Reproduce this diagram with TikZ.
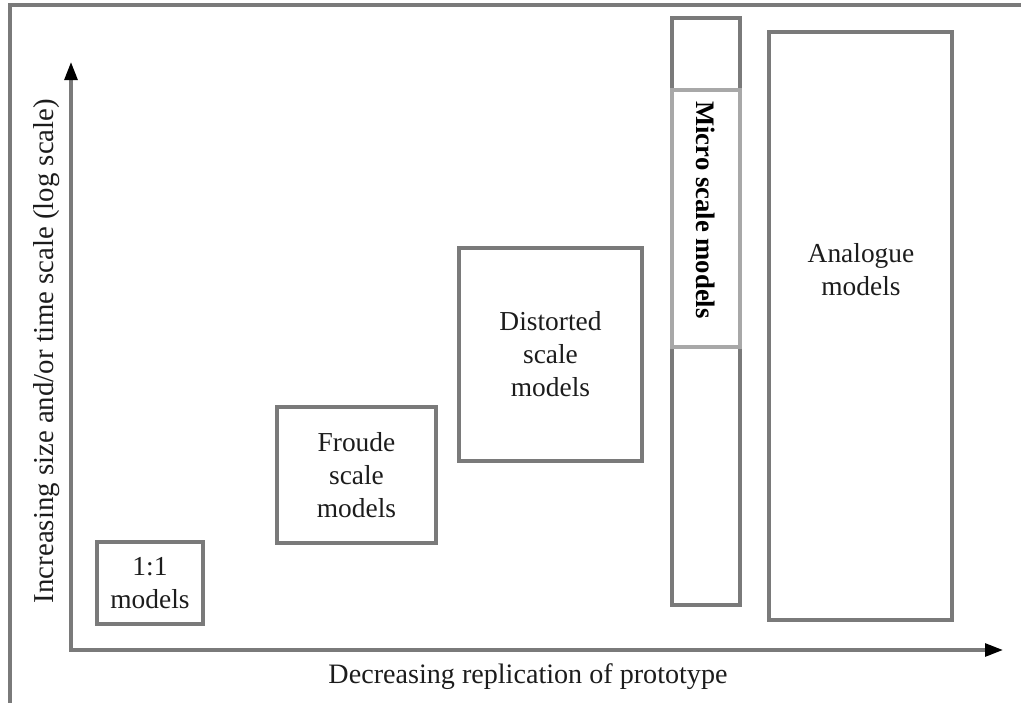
\documentclass[tikz,border=0pt]{standalone}
\usepackage{fontspec}
\setmainfont{Liberation Serif}
\usepackage{tikz}
\usetikzlibrary{arrows.meta, positioning, calc}
\definecolor{edgegray}{HTML}{7A7A7A}
\definecolor{lightedge}{HTML}{A8A8A8}
\definecolor{inkgray}{HTML}{1C1C1C}
\tikzset{
  box/.style={draw=edgegray, line width=2.4pt, rectangle, align=center, text=inkgray, inner sep=0pt},
  innerbox/.style={box, draw=lightedge},
  lbl/.style={align=center, text=inkgray, inner sep=0pt},
  axis/.style={draw=edgegray, line width=2.4pt,
    {Triangle[length=4.5mm, width=3.2mm, color=black]}-{Triangle[length=4.5mm, width=3.2mm, color=black]}},
  frame/.style={draw=edgegray, line width=2.4pt},
}

\begin{document}
\begin{tikzpicture}[x=0.025cm, y=-0.025cm, font=\fontsize{19.5}{23.5}\selectfont]
  \useasboundingbox (0,0) rectangle (1021,703);

  % outer frame (only top and left edges show)
  \coordinate (frtr) at (1021,5);
  \coordinate (frtl) at (10,5);
  \coordinate (frbl) at (10,703);
  \draw[frame] (frtr) -- (frtl) -- (frbl);

  % axes
  \coordinate (o) at (71,650);
  \coordinate (ytop) at (71,62);
  \coordinate (xend) at (1003,650);
  \draw[axis] (ytop) -- (o) -- (xend);

  \node[lbl, font=\fontsize{20}{24}\selectfont] (xlab) at (528,677) {Decreasing replication of prototype};
  \node[lbl, rotate=90, font=\fontsize{20.5}{24}\selectfont] (ylab) at (47,351) {Increasing size and/or time scale (log scale)};

  % model classes
  \node[box, minimum width=2.65cm, minimum height=2.05cm] (one) at (150,583) {1:1\\models};
  \node[box, minimum width=3.975cm, minimum height=3.4cm] (froude) at (356.5,475) {Froude\\scale\\models};
  \node[box, minimum width=4.575cm, minimum height=5.325cm] (dist) at (550.5,354.5) {Distorted\\scale\\models};

  \node[box, minimum width=1.7cm, minimum height=14.675cm] (micro) at (706,311.5) {};
  \node[innerbox, minimum width=1.7cm, minimum height=6.425cm] (microin) at (706,218.5) {};
  \node[lbl, rotate=-90, font=\fontsize{19}{23}\selectfont\bfseries, text=black] (microt) at (706,210) {Micro scale models};

  \node[box, minimum width=4.575cm, minimum height=14.7cm] (ana) at (860.5,326) {};
  \node[lbl] (anat) at (861,270) {Analogue\\models};
\end{tikzpicture}
\end{document}
